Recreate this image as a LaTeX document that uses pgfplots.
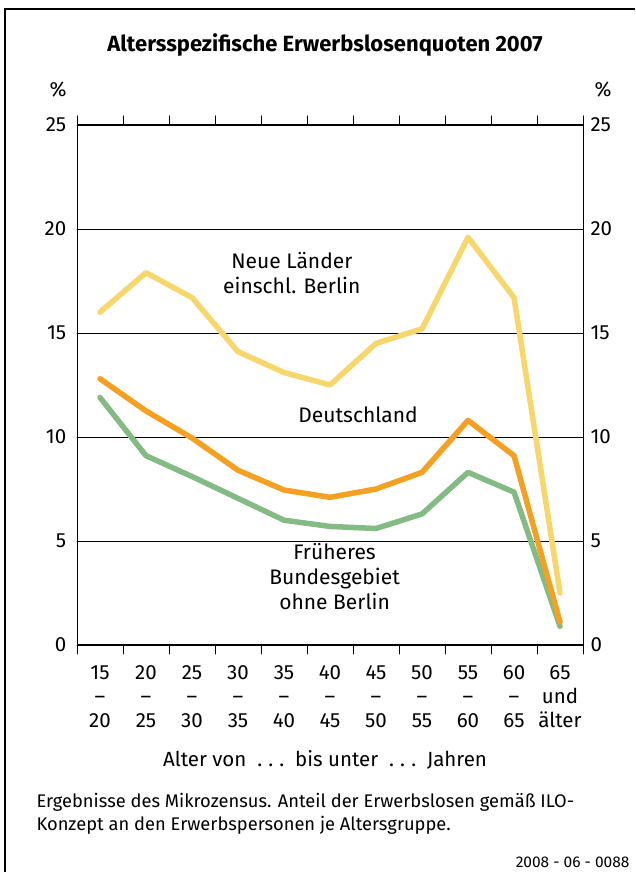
\documentclass[border=0pt]{standalone}
\usepackage{pgfplots}
\pgfplotsset{compat=1.18}
\usepackage{fontspec}
\setmainfont{Fira Sans}[Scale=1.0]
\definecolor{cyel}{HTML}{F7D66C}
\definecolor{cora}{HTML}{F5A020}
\definecolor{cgrn}{HTML}{84BB85}
\pgfplotstableread{
x neu de west
0.5 16.0 12.8 11.9
1.5 17.9 11.25 9.1
2.5 16.7 9.95 8.1
3.5 14.1 8.4 7.05
4.5 13.1 7.45 6.0
5.5 12.5 7.1 5.7
6.5 14.5 7.5 5.6
7.5 15.2 8.3 6.3
8.5 19.6 10.8 8.3
9.5 16.7 9.1 7.35
10.5 2.5 1.1 0.9
}\datatable
\begin{document}
\begin{tikzpicture}[x=1pt,y=1pt]
\useasboundingbox (0,0) rectangle (635,872);
\draw[line width=1.2pt] (5,0) -- (5,863) -- (635,863);
\node[font=\fontsize{22}{26}\selectfont\bfseries] at (325,827) {Altersspezifische Erwerbslosenquoten 2007};
\node[font=\fontsize{20.5}{24}\selectfont] at (58,782) {\%};
\node[font=\fontsize{20.5}{24}\selectfont] at (603,782) {\%};
\begin{axis}[
  at={(77pt,227pt)}, anchor=origin,
  scale only axis, width=506pt, height=520pt,
  xmin=0, xmax=11, ymin=0, ymax=25,
  axis line style={line width=1pt},
  ytick={0,5,10,15,20,25},
  ymajorgrids, grid style={black, line width=0.8pt},
  major y tick style={draw=none},
  yticklabel style={font=\fontsize{20.5}{24}\selectfont, xshift=-3pt},
  xtick={0.5,1.5,...,10.5},
  xticklabels={{15\\–\\20},{20\\–\\25},{25\\–\\30},{30\\–\\35},{35\\–\\40},{40\\–\\45},{45\\–\\50},{50\\–\\55},{55\\–\\60},{60\\–\\65},{65\\und\\älter}},
  xticklabel style={font=\fontsize{20.5}{24}\selectfont, align=center, yshift=-13pt},
  major x tick style={draw=none},
  minor xtick={0,1,...,11},
  minor tick length=9pt,
  minor x tick style={black, line width=1pt},
  tick align=outside,
  clip=false,
  /pgf/number format/assume math mode=true,
  line join=round, line cap=round,
]
\addplot[cgrn, line width=5.5pt] table[x=x,y=west] {\datatable};
\addplot[cora, line width=5.5pt] table[x=x,y=de] {\datatable};
\addplot[cyel, line width=5.5pt] table[x=x,y=neu] {\datatable};
\node[font=\fontsize{21}{25}\selectfont, align=center] at (axis cs:4.67,17.9) {Neue Länder\\einschl. Berlin};
\node[font=\fontsize{21}{25}\selectfont] at (axis cs:6.11,11.06) {Deutschland};
\node[font=\fontsize{21}{25}\selectfont, align=center, fill=white, inner xsep=7pt, inner ysep=1pt] at (axis cs:5.6,3.27) {Früheres\\Bundesgebiet\\ohne Berlin};
\end{axis}
\begin{axis}[
  at={(77pt,227pt)}, anchor=origin,
  scale only axis, width=506pt, height=520pt,
  xmin=0, xmax=11, ymin=0, ymax=25,
  hide x axis,
  axis y line*=right,
  axis line style={line width=1pt},
  ytick={0,5,10,15,20,25},
  major y tick style={draw=none},
  yticklabel style={font=\fontsize{20.5}{24}\selectfont, xshift=4pt},
  /pgf/number format/assume math mode=true,
]
\addplot[draw=none] coordinates {(0,0)};
\end{axis}
\node[font=\fontsize{20.5}{24}\selectfont] at (325,112) {Alter von \ .\hspace{0.3em}.\hspace{0.3em}.\ \ bis unter \ .\hspace{0.3em}.\hspace{0.3em}.\ \ Jahren};
\node[font=\fontsize{18.3}{23}\selectfont, align=left, anchor=north west] at (33,82) {Ergebnisse des Mikrozensus. Anteil der Erwerbslosen gemäß ILO-\\Konzept an den Erwerbspersonen je Altersgruppe.};
\node[font=\fontsize{15.5}{18}\selectfont, anchor=base east] at (633,5) {2008 - 06 - 0088};
\end{tikzpicture}
\end{document}
